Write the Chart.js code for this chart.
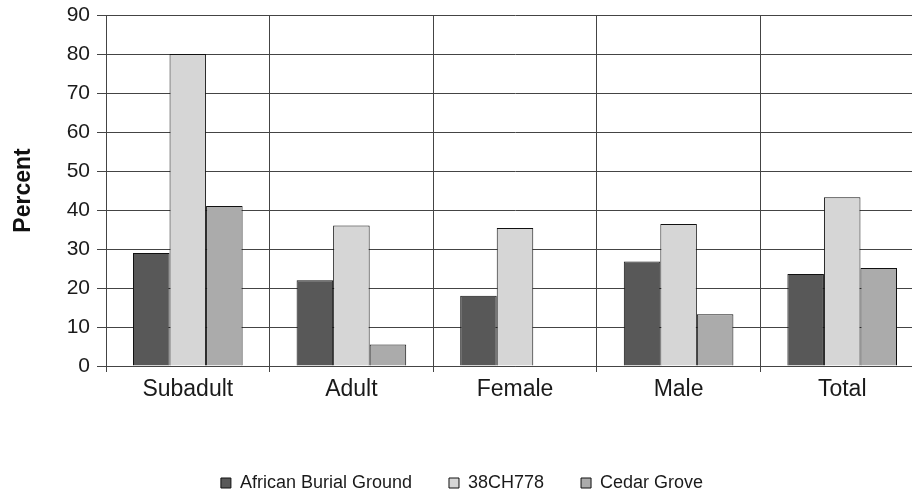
<!DOCTYPE html>
<html lang="en">
<head>
    <meta charset="UTF-8">
    <title>Percent by group</title>
    <script src="https://cdn.jsdelivr.net/npm/chart.js"></script>
    <style>
        html, body { margin: 0; padding: 0; background: #fff; overflow: hidden; }
        .wrap { width: 924px; height: 497px; }
    </style>
</head>
<body>
    <div class="wrap"><canvas id="chart"></canvas></div>
    <script>
        const categories = ['Subadult', 'Adult', 'Female', 'Male', 'Total'];
        const africanBurialGround = [29, 22, 18, 26.8, 23.6];
        const site38CH778 = [80, 36, 35.4, 36.4, 43.3];
        const cedarGrove = [41, 5.5, 0, 13.3, 25.1];
        const yTicks = [0, 10, 20, 30, 40, 50, 60, 70, 80, 90];

        const font = { family: '"Liberation Sans", Arial, sans-serif' };

        function series(label, data, color) {
            return {
                label: label,
                data: data,
                backgroundColor: color,
                borderColor: '#111',
                borderWidth: 1,
                borderSkipped: 'start',
                categoryPercentage: 0.67,
                barPercentage: 1
            };
        }

        new Chart(document.getElementById('chart'), {
            type: 'bar',
            data: {
                labels: categories,
                datasets: [
                    series('African Burial Ground', africanBurialGround, '#585858'),
                    series('38CH778', site38CH778, '#d6d6d6'),
                    series('Cedar Grove', cedarGrove, '#ababab')
                ]
            },
            options: {
                responsive: true,
                maintainAspectRatio: false,
                animation: false,
                layout: { padding: { top: 15, left: 0, right: 0, bottom: -5 } },
                plugins: {
                    tooltip: { enabled: false },
                    legend: {
                        position: 'bottom',
                        labels: {
                            boxWidth: 10,
                            boxHeight: 10,
                            padding: 37,
                            color: '#1a1a1a',
                            font: { ...font, size: 18 }
                        }
                    }
                },
                scales: {
                    x: {
                        offset: true,
                        grid: {
                            offset: true,
                            color: '#444',
                            lineWidth: 1,
                            tickLength: 6,
                            drawOnChartArea: true
                        },
                        border: { color: '#444' },
                        ticks: {
                            color: '#1a1a1a',
                            padding: 4,
                            font: { ...font, size: 23 }
                        },
                        afterFit: axis => { axis.height = 71; }
                    },
                    y: {
                        min: 0,
                        max: 90,
                        afterBuildTicks: axis => { axis.ticks = yTicks.map(v => ({ value: v })); },
                        grid: { color: '#444', lineWidth: 1, tickLength: 9 },
                        border: { color: '#444' },
                        ticks: {
                            color: '#1a1a1a',
                            padding: 7,
                            font: { ...font, size: 21 }
                        },
                        title: {
                            display: true,
                            text: 'Percent',
                            color: '#111',
                            padding: { top: 10, bottom: 0 },
                            font: { ...font, size: 23, weight: 'bold' }
                        },
                        afterFit: axis => {
                            axis.width = 106;
                            axis.paddingTop = 0;
                            axis.paddingBottom = 0;
                        }
                    }
                }
            }
        });
    </script>
</body>
</html>
